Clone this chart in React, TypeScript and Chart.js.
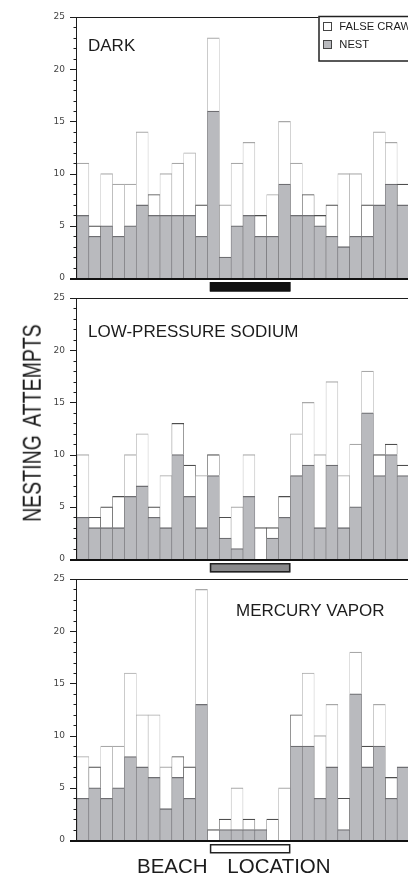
import React, { useEffect, useRef } from "react";
import { Chart, registerables } from "chart.js";

Chart.register(...registerables);

// ---- data ----
const BEACH_SECTIONS = [
  "1", "2", "3", "4", "5", "6", "7", "8", "9", "10", "11", "12", "13", "14",
  "15", "16", "17", "18", "19", "20", "21", "22", "23", "24", "25", "26", "27", "28",
];
const Y_TICKS = [0, 5, 10, 15, 20, 25];
const Y_MAX = 25;

const DARK_NEST = [6, 4, 5, 4, 5, 7, 6, 6, 6, 6, 4, 16, 2, 5, 6, 4, 4, 9, 6, 6, 5, 4, 3, 4, 4, 7, 9, 7];
const DARK_FALSE = [5, 1, 5, 5, 4, 7, 2, 4, 5, 6, 3, 7, 5, 6, 7, 2, 4, 6, 5, 2, 1, 3, 7, 6, 3, 7, 4, 2];

const LPS_NEST = [4, 3, 3, 3, 6, 7, 4, 3, 10, 6, 3, 8, 2, 1, 6, 0, 2, 4, 8, 9, 3, 9, 3, 5, 14, 8, 10, 8];
const LPS_FALSE = [6, 1, 2, 3, 4, 5, 1, 5, 3, 3, 5, 2, 2, 4, 4, 3, 1, 2, 4, 6, 7, 8, 5, 6, 4, 2, 1, 1];

const MV_NEST = [4, 5, 4, 5, 8, 7, 6, 3, 6, 4, 13, 0, 1, 1, 1, 1, 0, 0, 9, 9, 4, 7, 1, 14, 7, 9, 4, 7];
const MV_FALSE = [4, 2, 5, 4, 8, 5, 6, 4, 2, 3, 11, 1, 1, 4, 1, 0, 2, 5, 3, 7, 6, 6, 3, 4, 2, 4, 2, 0];

const PANEL_TITLES = ["DARK", "LOW-PRESSURE SODIUM", "MERCURY VAPOR"];
const LEGEND_LABELS = ["FALSE CRAWL", "NEST"];
const LIGHT_SPAN = [12, 18]; // first and last lit beach section
const Y_TITLE = "NESTING ATTEMPTS";
const X_TITLE = "BEACH LOCATION";

// ---- styles ----
const CANVAS_W = 420;
const CANVAS_H = 301;
const PAD_TOP = 20;
const PAD_BOTTOM = 20;
const AXIS_W = 77;
const NEST_FILL = "#b9babe";
const INK = "#1c1c1c";
const TITLE_FONT = '17px "Liberation Sans", Arial, sans-serif';
const LEGEND_FONT = '10px "Liberation Sans", Arial, sans-serif';

type PanelCfg = {
  nest: number[];
  falseCrawl: number[];
  title: string;
  titleX: number;
  titleBaseline: number; // canvas coords
  top: number; // canvas top in page
  markerFill: string;
  markerStroke: string;
  legend: boolean;
};

function makeDeco(cfg: PanelCfg) {
  return {
    id: "panelDeco",
    afterDatasetsDraw(chart: any) {
      const ctx: CanvasRenderingContext2D = chart.ctx;
      const { left, top, bottom } = chart.chartArea;
      const ys = chart.scales.y;
      const xs = chart.scales.x;
      const W = chart.width;
      ctx.save();

      // minor / major ticks
      ctx.strokeStyle = INK;
      ctx.lineWidth = 1;
      for (let v = 0; v <= Y_MAX; v++) {
        const y = Math.round(ys.getPixelForValue(v)) + 0.5;
        const len = v % 5 === 0 ? 7 : 3.5;
        ctx.beginPath();
        ctx.moveTo(left - len, y);
        ctx.lineTo(left, y);
        ctx.stroke();
      }
      // left axis
      ctx.beginPath();
      ctx.moveTo(left - 0.5, top);
      ctx.lineTo(left - 0.5, bottom);
      ctx.stroke();
      // top frame line
      ctx.lineWidth = 1.2;
      ctx.beginPath();
      ctx.moveTo(left - 7, top + 0.5);
      ctx.lineTo(W, top + 0.5);
      ctx.stroke();
      // bottom axis (thick)
      ctx.strokeStyle = "#111";
      ctx.lineWidth = 2.2;
      ctx.beginPath();
      ctx.moveTo(left - 7, bottom + 1);
      ctx.lineTo(W, bottom + 1);
      ctx.stroke();

      // light-location marker
      const bw = xs.getPixelForValue(1) - xs.getPixelForValue(0);
      const mx0 = xs.getPixelForValue(LIGHT_SPAN[0] - 1) - bw / 2 + 2.4;
      const mx1 = xs.getPixelForValue(LIGHT_SPAN[1] - 1) + bw / 2;
      const my0 = bottom + 4;
      const mh = 9.5;
      ctx.fillStyle = cfg.markerFill;
      ctx.fillRect(mx0, my0, mx1 - mx0, mh);
      ctx.strokeStyle = cfg.markerStroke;
      ctx.lineWidth = 1.5;
      ctx.strokeRect(mx0 + 0.75, my0 + 0.75, mx1 - mx0 - 1.5, mh - 1.5);

      // panel title
      ctx.fillStyle = INK;
      ctx.font = TITLE_FONT;
      ctx.textAlign = "left";
      ctx.textBaseline = "alphabetic";
      ctx.fillText(cfg.title, cfg.titleX, cfg.titleBaseline);

      // legend
      if (cfg.legend) {
        ctx.fillStyle = "#ffffff";
        ctx.fillRect(318.5, top - 0.5, W - 318.5, 44.5);
        ctx.strokeStyle = "#222";
        ctx.lineWidth = 1.5;
        ctx.strokeRect(319, top - 0.5, W, 44.5);
        // swatches
        ctx.lineWidth = 1;
        ctx.fillStyle = "#ffffff";
        ctx.fillRect(323, top + 5.5, 8, 8);
        ctx.strokeStyle = "#444";
        ctx.strokeRect(323.5, top + 5.5, 8, 8);
        ctx.fillStyle = NEST_FILL;
        ctx.fillRect(323.5, top + 23.5, 8, 8);
        ctx.strokeRect(323.5, top + 23.5, 8, 8);
        ctx.fillStyle = INK;
        ctx.font = LEGEND_FONT;
        ctx.save();
        ctx.translate(339.3, 0);
        ctx.scale(1.12, 1);
        ctx.fillText(LEGEND_LABELS[0], 0, top + 12.6);
        ctx.fillText(LEGEND_LABELS[1], 0, top + 31);
        ctx.restore();
      }
      ctx.restore();
    },
  };
}

function Panel(cfg: PanelCfg) {
  const ref = useRef<HTMLCanvasElement>(null);
  useEffect(() => {
    const chart = new Chart(ref.current as HTMLCanvasElement, {
      type: "bar",
      data: {
        labels: BEACH_SECTIONS,
        datasets: [
          {
            label: LEGEND_LABELS[1],
            data: cfg.nest,
            backgroundColor: NEST_FILL,
            borderColor: "#6e6e72",
            borderWidth: { top: 1.3, left: 0.6, right: 0.6, bottom: 0 } as any,
            borderSkipped: "start",
            barPercentage: 1,
            categoryPercentage: 1,
            stack: "s",
          },
          {
            label: LEGEND_LABELS[0],
            data: cfg.falseCrawl,
            backgroundColor: "#ffffff",
            borderColor: (c: any) => (c.raw <= 3 ? "#4e4e4e" : "#a8a8a8"),
            borderWidth: { top: 1.2, left: 0.6, right: 0.6, bottom: 0 } as any,
            borderSkipped: "start",
            barPercentage: 1,
            categoryPercentage: 1,
            stack: "s",
          },
        ],
      },
      options: {
        responsive: false,
        animation: false,
        events: [],
        layout: { padding: { top: PAD_TOP, bottom: PAD_BOTTOM, left: 0, right: 11 } },
        plugins: { legend: { display: false }, tooltip: { enabled: false } },
        scales: {
          x: { display: false, stacked: true },
          y: {
            stacked: true,
            min: 0,
            max: Y_MAX,
            afterFit: (s: any) => {
              s.width = AXIS_W;
            },
            afterBuildTicks: (s: any) => {
              s.ticks = Y_TICKS.map((v) => ({ value: v }));
            },
            grid: { display: false, drawTicks: false },
            border: { display: false },
            ticks: {
              padding: 12,
              color: "#444",
              font: { family: "DejaVu Sans", size: 9 },
            },
          },
        },
      },
      plugins: [makeDeco(cfg)],
    });
    return () => chart.destroy();
  }, []);
  return (
    <canvas
      ref={ref}
      width={CANVAS_W}
      height={CANVAS_H}
      style={{ position: "absolute", left: 0, top: cfg.top, width: CANVAS_W, height: CANVAS_H }}
    />
  );
}

export default function App() {
  return (
    <div
      style={{
        position: "absolute",
        left: 0,
        top: 0,
        width: 408,
        height: 874,
        overflow: "hidden",
        background: "#ffffff",
      }}
    >
      <Panel
        nest={DARK_NEST}
        falseCrawl={DARK_FALSE}
        title={PANEL_TITLES[0]}
        titleX={88}
        titleBaseline={53.7}
        top={-3}
        markerFill="#111"
        markerStroke="#111"
        legend={true}
      />
      <Panel
        nest={LPS_NEST}
        falseCrawl={LPS_FALSE}
        title={PANEL_TITLES[1]}
        titleX={88}
        titleBaseline={59.3}
        top={278}
        markerFill="#8a8a8c"
        markerStroke="#222"
        legend={false}
      />
      <Panel
        nest={MV_NEST}
        falseCrawl={MV_FALSE}
        title={PANEL_TITLES[2]}
        titleX={236}
        titleBaseline={56.7}
        top={559}
        markerFill="#ffffff"
        markerStroke="#222"
        legend={false}
      />
      <div
        style={{
          position: "absolute",
          left: 32.5,
          top: 422.5,
          transform: "translate(-50%, -50%) rotate(-90deg) scaleY(1.3)",
          fontFamily: '"Liberation Sans", Arial, sans-serif',
          fontSize: 19.5,
          lineHeight: "19.5px",
          whiteSpace: "pre",
          wordSpacing: 4,
          color: INK,
        }}
      >
        {Y_TITLE}
      </div>
      <div
        style={{
          position: "absolute",
          left: 137,
          top: 856.3,
          fontFamily: '"Liberation Sans", Arial, sans-serif',
          fontSize: 20.5,
          lineHeight: "20.5px",
          whiteSpace: "pre",
          wordSpacing: 14,
          color: INK,
        }}
      >
        {X_TITLE}
      </div>
    </div>
  );
}
